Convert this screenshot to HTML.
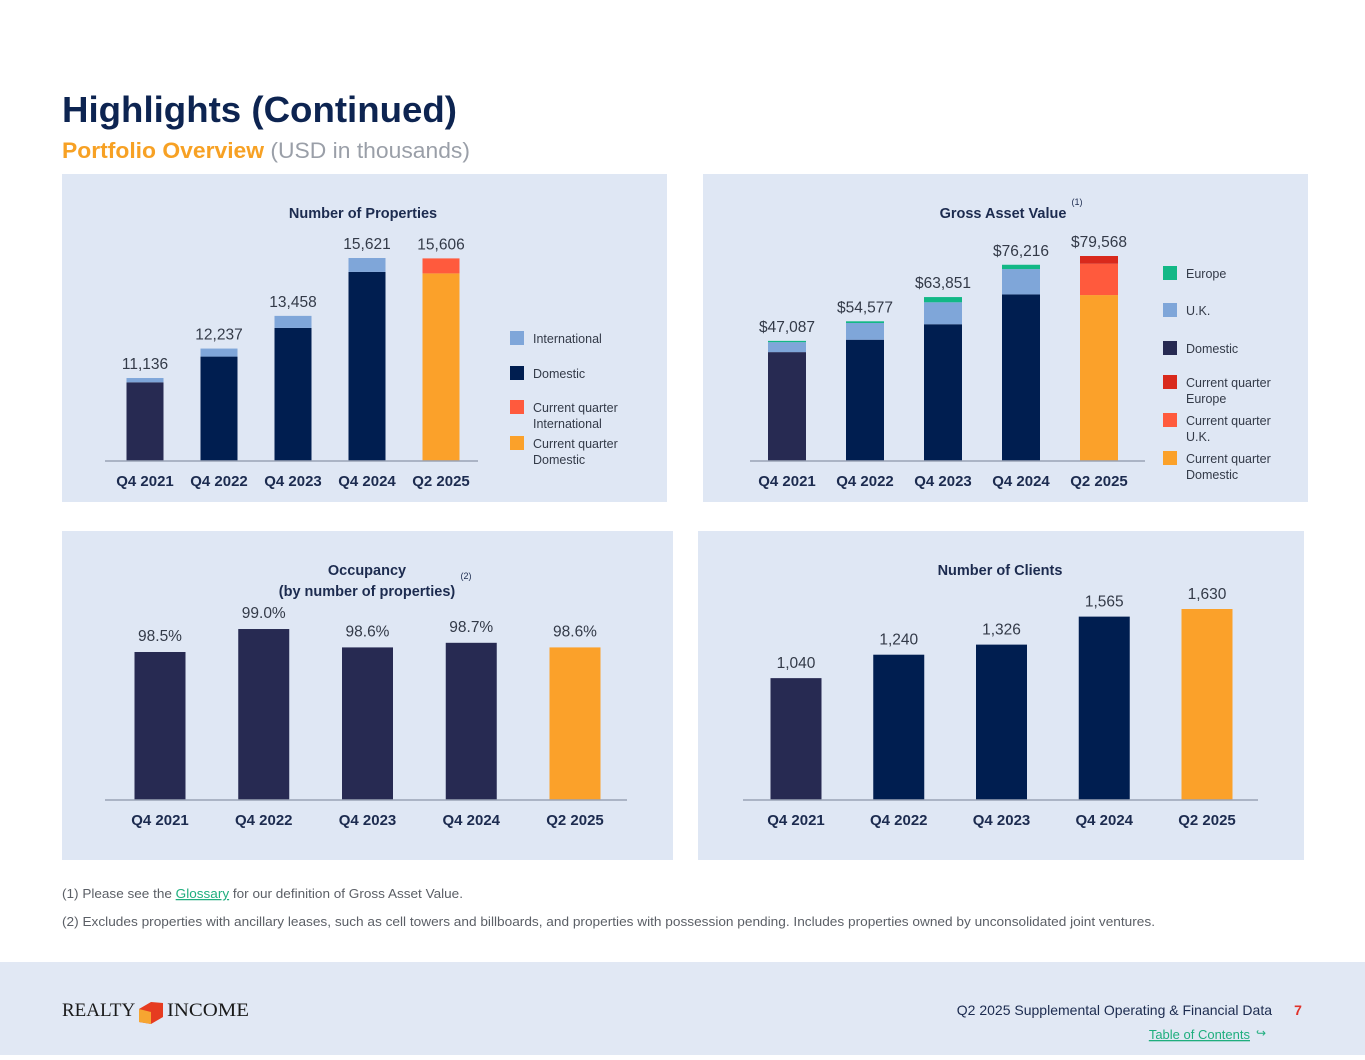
<!DOCTYPE html>
<html><head><meta charset="utf-8"><style>
html,body{margin:0;padding:0;background:#fff;}
body{width:1365px;height:1055px;overflow:hidden;font-family:"Liberation Sans",sans-serif;}
svg text{font-family:"Liberation Sans",sans-serif;}
</style></head><body>
<svg id="page" width="1365" height="1055" viewBox="0 0 1365 1055" xmlns="http://www.w3.org/2000/svg">
<text x="62" y="122" font-size="36" font-weight="bold" fill="#0d2451" textLength="395" lengthAdjust="spacingAndGlyphs">Highlights (Continued)</text>
<text x="62" y="158" font-size="22" fill="#9a9fa8" textLength="408" lengthAdjust="spacingAndGlyphs"><tspan font-weight="bold" fill="#f7a124">Portfolio Overview</tspan> (USD in thousands)</text>

<rect x="62" y="174" width="605" height="328" fill="#dfe7f4"/>
<rect x="703" y="174" width="605" height="328" fill="#dfe7f4"/>
<rect x="62" y="531" width="611" height="329" fill="#dfe7f4"/>
<rect x="698" y="531" width="606" height="329" fill="#dfe7f4"/>

<text x="363" y="218" font-size="14.5" font-weight="bold" fill="#1c2b4f" text-anchor="middle">Number of Properties</text>
<text x="1003" y="218" font-size="14.5" font-weight="bold" fill="#1c2b4f" text-anchor="middle">Gross Asset Value</text>
<text x="1077" y="205" font-size="9" fill="#1c2b4f" text-anchor="middle">(1)</text>
<text x="367" y="575" font-size="14.5" font-weight="bold" fill="#1c2b4f" text-anchor="middle">Occupancy</text>
<text x="367" y="596" font-size="14.5" font-weight="bold" fill="#1c2b4f" text-anchor="middle">(by number of properties)</text>
<text x="466" y="579" font-size="9" fill="#1c2b4f" text-anchor="middle">(2)</text>
<text x="1000" y="575" font-size="14.5" font-weight="bold" fill="#1c2b4f" text-anchor="middle">Number of Clients</text>

<g id="c1"></g>
<g id="c2"></g>
<g id="c3"></g>
<g id="c4"></g>

<text x="62" y="898" font-size="12.5" fill="#5b5f66" textLength="401" lengthAdjust="spacingAndGlyphs">(1)  Please see the <tspan fill="#1fae7e" text-decoration="underline">Glossary</tspan> for our definition of Gross Asset Value.</text>
<text x="62" y="926" font-size="12.5" fill="#5b5f66" textLength="1093" lengthAdjust="spacingAndGlyphs">(2)  Excludes properties with ancillary leases, such as cell towers and billboards, and properties with possession pending. Includes properties owned by unconsolidated joint ventures.</text>

<rect x="0" y="962" width="1365" height="93" fill="#e1e8f4"/>
<g>
<text x="62" y="1016" font-size="19" fill="#1a1a1a" style="font-family:'Liberation Serif',serif">REALTY</text>
<polygon points="151,1002 139,1009 139,1022 151,1024 163,1017 163,1003" fill="#e63b20"/>
<polygon points="139,1009 151,1012 151,1024 139,1022" fill="#f6a531"/>
<text x="167" y="1016" font-size="19" fill="#1a1a1a" style="font-family:'Liberation Serif',serif" textLength="82" lengthAdjust="spacingAndGlyphs">INCOME</text>
</g>
<text x="1272" y="1015" font-size="14" fill="#1c2b4f" text-anchor="end">Q2 2025 Supplemental Operating &amp; Financial Data</text>
<text x="1298" y="1015" font-size="14" font-weight="bold" fill="#e0322a" text-anchor="middle">7</text>
<text x="1250" y="1039" font-size="13" fill="#1fae7e" text-anchor="end" text-decoration="underline">Table of Contents</text>
<text x="1256" y="1037" font-size="12" fill="#1fae7e">↪</text>
</svg>
<script>
const NS='http://www.w3.org/2000/svg';
const categories=['Q4 2021','Q4 2022','Q4 2023','Q4 2024','Q2 2025'];
// Number of Properties
const propTotals=[11136,12237,13458,15621,15606];
const propIntl=[160,300,450,520,560];
const propLabels=['11,136','12,237','13,458','15,621','15,606'];
// Gross Asset Value
const gavTotals=[47087,54577,63851,76216,79568];
const gavEurope=[500,650,2000,1650,2950];
const gavUK=[3800,6400,8400,9700,12000];
const gavLabels=['$47,087','$54,577','$63,851','$76,216','$79,568'];
// Occupancy
const occValues=[98.5,99.0,98.6,98.7,98.6];
const occLabels=['98.5%','99.0%','98.6%','98.7%','98.6%'];
// Clients
const clientValues=[1040,1240,1326,1565,1630];
const clientLabels=['1,040','1,240','1,326','1,565','1,630'];

function mk(tag,attrs,parent){const e=document.createElementNS(NS,tag);for(const k in attrs)e.setAttribute(k,attrs[k]);parent.appendChild(e);return e;}
function linScale(d0,d1,r0,r1){return v=>r0+(v-d0)*(r1-r0)/(d1-d0);}
function bandX(x0,step){return i=>x0+i*step;}
const DOM1='#272a52',DOM='#001e50',LB='#7fa6d9',OR='#fba12a',RD='#ff5a3d',DR='#d9291c',GR='#12b886';
function domColor(i,n){return i===n-1?OR:(i===0?DOM1:DOM);}

function axis(g,x1,x2,y,labels,xf,ly){
  const l=mk('line',{x1:x1,x2:x2,y1:y,y2:y,stroke:'#9aa3b5','stroke-width':1.5},g);
  
  
  labels.forEach((c,i)=>{const t=mk('text',{x:xf(i),y:ly,'font-size':15,'font-weight':'bold',fill:'#1c2b4f','text-anchor':'middle'},g);t.textContent=c;
  
  });
}
function bar(g,x,y0,y1,w,fill,name){const r=mk('rect',{x:x-w/2,y:Math.min(y0,y1),width:w,height:Math.abs(y1-y0),fill:fill},g);
  
  
  return r;}
function valLabel(g,x,y,txt){const t=mk('text',{x:x,y:y,'font-size':15.5,fill:'#333a48','text-anchor':'middle'},g);t.textContent=txt;
  
  }
function legend(g,x,items){items.forEach(it=>{const r=mk('rect',{x:x,y:it.y,width:14,height:14,fill:it.c},g);
  
  
  const t=mk('text',{x:x+23,y:it.y+12,'font-size':12.5,fill:'#333a48'},g);
  
  
  it.t.forEach((s,k)=>{const ts=mk('tspan',{x:x+23,dy:k?16:0},t);ts.textContent=s;});});}

// Chart 1
(function(){const g=document.getElementById('c1');const base=461;const y=linScale(8035,15621,base,258);const xf=bandX(145,74);const n=5;
 propTotals.forEach((v,i)=>{const dom=v-propIntl[i];const x=xf(i);
  bar(g,x,base,y(dom),37,domColor(i,n),'bar-domestic-'+i);
  bar(g,x,y(dom),y(v),37,i===n-1?RD:LB,'bar-international-'+i);
  valLabel(g,x,y(v)-9,propLabels[i]);});
 axis(g,105,478,base,categories,xf,486);
 legend(g,510,[{y:331,c:LB,t:['International']},{y:366,c:DOM,t:['Domestic']},{y:400,c:RD,t:['Current quarter','International']},{y:436,c:OR,t:['Current quarter','Domestic']}]);
})();
// Chart 2
(function(){const g=document.getElementById('c2');const base=461;const y=linScale(1117,79568,base,256);const xf=bandX(787,78);const n=5;
 gavTotals.forEach((v,i)=>{const x=xf(i);const dom=v-gavEurope[i]-gavUK[i];const uk=dom+gavUK[i];const cur=i===n-1;
  bar(g,x,base,y(dom),38,domColor(i,n),'bar-domestic-'+i);
  bar(g,x,y(dom),y(uk),38,cur?RD:LB,'bar-uk-'+i);
  bar(g,x,y(uk),y(v),38,cur?DR:GR,'bar-europe-'+i);
  valLabel(g,x,y(v)-9,gavLabels[i]);});
 axis(g,750,1145,base,categories,xf,486);
 legend(g,1163,[{y:266,c:GR,t:['Europe']},{y:303,c:LB,t:['U.K.']},{y:341,c:DOM1,t:['Domestic']},{y:375,c:DR,t:['Current quarter','Europe']},{y:413,c:RD,t:['Current quarter','U.K.']},{y:451,c:OR,t:['Current quarter','Domestic']}]);
})();
// Chart 3
(function(){const g=document.getElementById('c3');const base=800;const y=linScale(95.28,98.5,base,652);const xf=bandX(160,103.75);const n=5;
 occValues.forEach((v,i)=>{const x=xf(i);bar(g,x,base,y(v),51,i===n-1?OR:DOM1,'bar-occupancy-'+i);valLabel(g,x,y(v)-11,occLabels[i]);});
 axis(g,105,627,base,categories,xf,825);
})();
// Chart 4
(function(){const g=document.getElementById('c4');const base=800;const y=linScale(0,1630,base,609);const xf=bandX(796,102.75);const n=5;
 clientValues.forEach((v,i)=>{const x=xf(i);bar(g,x,base,y(v),51,domColor(i,n),'bar-clients-'+i);valLabel(g,x,y(v)-10,clientLabels[i]);});
 axis(g,743,1258,base,categories,xf,825);
})();
</script>
</body></html>
